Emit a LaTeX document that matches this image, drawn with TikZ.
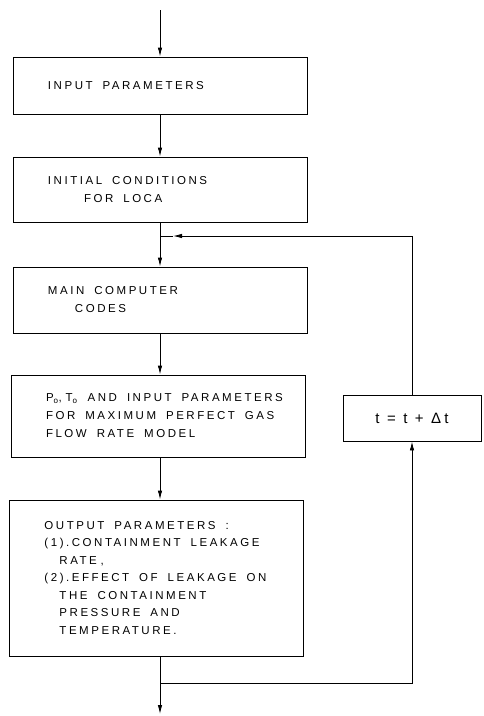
\documentclass[tikz,border=0pt]{standalone}
\usepackage{fontspec}
\setmainfont{Liberation Sans}[LetterSpace=22]
\usetikzlibrary{arrows.meta,positioning,calc}
\newcommand{\wgap}{\hspace{10pt}}

\begin{document}
\begin{tikzpicture}[x=1pt, y=-1pt, line width=0.9pt,
  stepbox/.style={draw, minimum width=294pt, text width=224pt, inner xsep=35pt,
    align=left, font=\fontsize{11.5}{18}\selectfont},
  flow/.style={-{Latex[length=9pt, width=4.5pt]}}]
\useasboundingbox (0,0) rectangle (483,716);
% main chain of boxes
\node[stepbox, minimum height=57pt] (inp) at (160,85.5) {INPUT\wgap PARAMETERS};
\node[stepbox, minimum height=65pt] (init) at (160,189.5)
  {INITIAL\wgap CONDITIONS\\ \hspace*{36pt}FOR\wgap LOCA};
\node[stepbox, minimum height=66pt] (main) at (160,300)
  {MAIN\wgap COMPUTER\\ \hspace*{27pt}CODES};
\node[stepbox, minimum width=290pt, minimum height=82pt] (flowmod) at (158,416)
  {\mbox{P\textsubscript{o}, T\textsubscript{o}\wgap AND\wgap INPUT\wgap PARAMETERS}\\
   \mbox{FOR\wgap MAXIMUM\wgap PERFECT\wgap GAS}\\
   FLOW\wgap RATE\wgap MODEL};
\node[stepbox, minimum width=287pt, minimum height=156pt,
  font=\fontsize{11.5}{17.5}\selectfont] (outp) at (156.5,578)
  {OUTPUT\wgap PARAMETERS\wgap :\\
   \mbox{(1).CONTAINMENT\wgap LEAKAGE}\\
   \hspace*{15pt}RATE ,\\
   \mbox{(2).EFFECT\wgap OF\wgap LEAKAGE\wgap ON}\\
   \hspace*{15pt}THE\wgap CONTAINMENT\\
   \hspace*{15pt}PRESSURE\wgap AND\\
   \hspace*{15pt}TEMPERATURE.};
% time step
\node[draw, minimum width=138pt, minimum height=46pt,
  font=\fontsize{15}{17}\selectfont] (dt) at (412,418) {t = t + Δt};
\coordinate (start) at (160,10);
\coordinate (join) at (160,236);
\coordinate (split) at (160,683);
\coordinate (stop) at (160,714);
% connectors
\draw[flow] (start) -- (inp.north);
\draw[flow] (inp.south) -- (init.north);
\draw[flow] (init.south) -- (main.north);
\draw[flow] (main.south) -- (main.south |- flowmod.north);
\draw[flow] (main.south |- flowmod.south) -- (main.south |- outp.north);
\draw[flow] (main.south |- outp.south) -- (stop);
\draw[flow] (split) -| (dt.south);
\draw[flow, shorten >=13pt] (dt.north) |- (join);
\draw (join) -- ++(13,0);
\end{tikzpicture}
\end{document}
